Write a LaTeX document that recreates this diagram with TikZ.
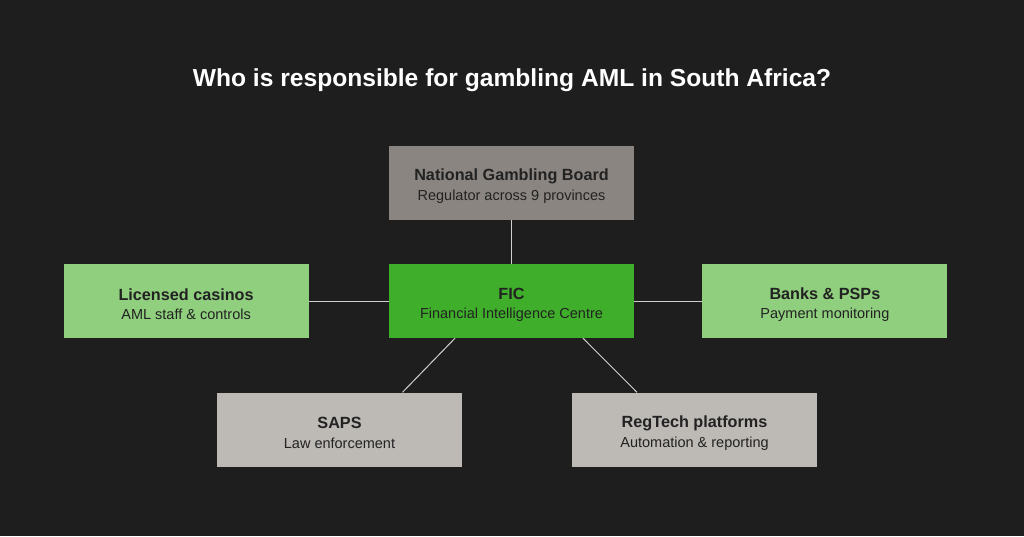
\documentclass[tikz,border=0pt]{standalone}
\usepackage{fontspec}
\setmainfont{Liberation Sans}
\usetikzlibrary{positioning}
\definecolor{bgdark}{HTML}{1E1E1E}
\definecolor{boardgrey}{HTML}{8A8580}
\definecolor{ficgreen}{HTML}{3FAE2A}
\definecolor{lightgreen}{HTML}{8FCF7E}
\definecolor{stonegrey}{HTML}{BDB9B5}
\definecolor{textdark}{HTML}{222222}
\definecolor{linegrey}{HTML}{D0D0D0}
\tikzset{block/.style={minimum width=245pt, minimum height=74pt, inner sep=0pt, text height=38pt, align=center, text=textdark, font=\fontsize{14.5}{19.5}\selectfont},
line/.style={draw=linegrey, line width=1pt}
}
\newcommand{\blocktext}[2]{{\bfseries\fontsize{16.2}{19.5}\selectfont #1}\\#2}

\begin{document}
\begin{tikzpicture}[x=1pt,y=-1pt]
\fill[bgdark] (0,0) rectangle (1024,536);
\useasboundingbox (0,0) rectangle (1024,536);
\node[text=white, font=\bfseries\fontsize{24.6}{28}\selectfont] (title) at (512,80) {Who is responsible for gambling AML in South Africa?};
\node[block, fill=ficgreen] (fic) at (511.5,301) {\blocktext{FIC}{Financial Intelligence Centre}};
\node[block, fill=boardgrey, above=44pt of fic] (ngb) {\blocktext{National Gambling Board}{Regulator across 9 provinces}};
\node[block, fill=lightgreen, left=80pt of fic] (casinos) {\blocktext{Licensed casinos}{AML staff \& controls}};
\node[block, fill=lightgreen, right=68pt of fic] (banks) {\blocktext{Banks \& PSPs}{Payment monitoring}};
 % lower row placed at coordinates
\node[block, fill=stonegrey] (saps) at (339.5,429.5) {\blocktext{SAPS}{Law enforcement}};
\node[block, fill=stonegrey] (regtech) at (694.5,429.5) {\blocktext{RegTech platforms}{Automation \& reporting}};
\draw[line] (ngb)--(fic);
\draw[line] (casinos)--(fic);
\draw[line] (fic)--(banks);
\draw[line] ([xshift=-56.5pt]fic.south)--([xshift=63pt]saps.north);
\draw[line] ([xshift=71.5pt]fic.south)--([xshift=-57.5pt]regtech.north);
\end{tikzpicture}
\end{document}
